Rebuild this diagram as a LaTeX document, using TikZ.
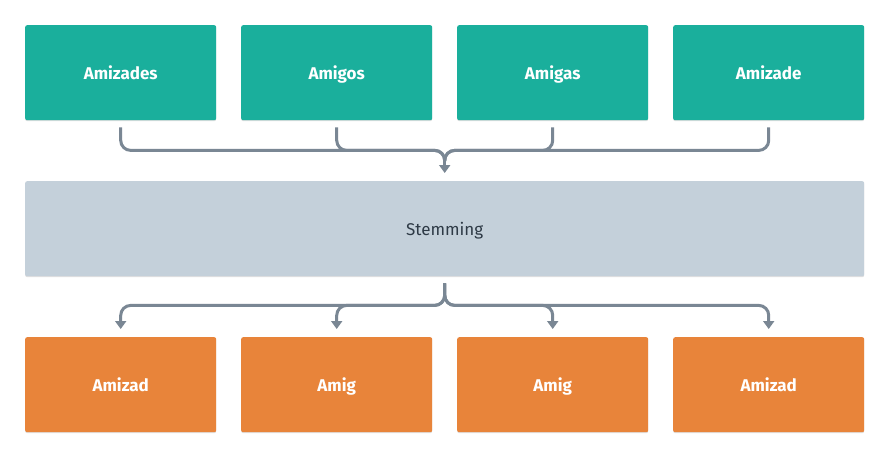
\documentclass[tikz,border=0pt]{standalone}
\usepackage{fontspec}
\setmainfont{Fira Sans}
\usetikzlibrary{arrows.meta,shadows,calc}
\definecolor{teal}{HTML}{1AAF9C}
\definecolor{orng}{HTML}{E8843A}
\definecolor{stem}{HTML}{C4D0DA}
\definecolor{conn}{HTML}{7A8794}
\definecolor{stemtext}{HTML}{2E3A46}
\begin{document}
\begin{tikzpicture}[x=1pt,y=-1pt,
  box/.style={rounded corners=2pt, inner sep=0pt, anchor=north west,
    text height=14pt, text depth=0pt,
    drop shadow={shadow xshift=0pt,shadow yshift=-1pt,opacity=0.12,fill=black}},
  inbox/.style={box,fill=teal,text=white,minimum width=191pt,minimum height=95pt,font=\bfseries\fontsize{17}{20}\selectfont},
  outbox/.style={box,fill=orng,text=white,minimum width=191pt,minimum height=95pt,font=\bfseries\fontsize{17}{20}\selectfont},
  stembox/.style={box,fill=stem,text=stemtext,minimum width=839pt,minimum height=95pt,font=\fontsize{17}{20}\selectfont},
  wire/.style={draw=conn,line width=3pt,rounded corners=10pt},
  tip/.style={-{Triangle[width=11pt,length=8pt]}}]
\useasboundingbox (0,0) rectangle (890,458);
\fill[white] (0,0) rectangle (890,458);
\node[inbox] (a) at (25,25) {Amizades};
\node[inbox] (b) at (241,25) {Amigos};
\node[inbox] (c) at (457,25) {Amigas};
\node[inbox] (d) at (673,25) {Amizade};
\node[stembox] (s) at (25,181) {Stemming};
\node[outbox] (e) at (25,337) {Amizad};
\node[outbox] (f) at (241,337) {Amig};
\node[outbox] (g) at (457,337) {Amig};
\node[outbox] (h) at (673,337) {Amizad};
% top connectors
\coordinate (tin) at ([yshift=8pt]s.north);
\coordinate (tmid) at ([yshift=20pt]s.north);
\draw[wire] ([yshift=-7pt]a.south) -- ++(0,23) -| (tmid);
\draw[wire] ([yshift=-7pt]b.south) -- ++(0,23) -| (tmid);
\draw[wire] ([yshift=-7pt]c.south) -- ++(0,23) -| (tmid);
\draw[wire] ([yshift=-7pt]d.south) -- ++(0,23) -| (tmid);
\draw[draw=conn,line width=3pt,tip] ([yshift=1pt]tmid) -- (tin);
% bottom connectors
\draw[wire,tip] ([yshift=-7pt]s.south) |- ++(0,22) -| ([yshift=8pt]e.north);
\draw[wire,tip] ([yshift=-7pt]s.south) |- ++(0,22) -| ([yshift=8pt]f.north);
\draw[wire,tip] ([yshift=-7pt]s.south) |- ++(0,22) -| ([yshift=8pt]g.north);
\draw[wire,tip] ([yshift=-7pt]s.south) |- ++(0,22) -| ([yshift=8pt]h.north);
\end{tikzpicture}
\end{document}
